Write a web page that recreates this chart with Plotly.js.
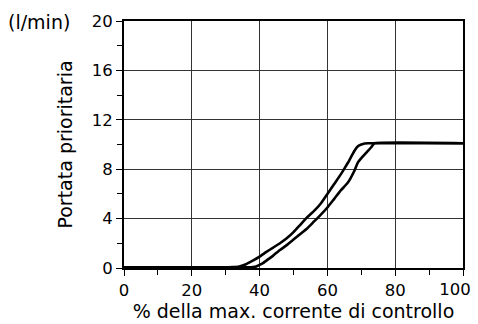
<!DOCTYPE html>
<html><head><meta charset="utf-8">
<script src="https://cdn.plot.ly/plotly-3.0.1.min.js"></script>
<style>html,body{margin:0;padding:0;background:#fff}#c{width:478px;height:324px}</style>
</head><body><div id="c"></div>
<script>
// Curve rising earlier (decreasing current)
var curveA_x = [0, 30, 32, 34, 36, 38, 40, 42, 44, 46, 48, 50, 52, 54, 56, 58, 60, 62, 64, 66, 67, 68, 69, 70, 71, 72, 100];
var curveA_y = [0.05, 0.05, 0.07, 0.12, 0.3, 0.6, 0.92, 1.3, 1.65, 2.0, 2.4, 2.9, 3.5, 4.1, 4.6, 5.2, 6.0, 6.8, 7.6, 8.5, 9.0, 9.5, 9.85, 10.0, 10.08, 10.1, 10.1];
// Curve rising later (increasing current)
var curveB_x = [0, 37, 38, 39, 40, 41, 42, 44, 46, 48, 50, 52, 54, 56, 58, 60, 62, 64, 66, 68, 69, 70, 71, 72, 73, 73.8, 100];
var curveB_y = [0.05, 0.05, 0.07, 0.12, 0.25, 0.4, 0.6, 1.0, 1.45, 1.85, 2.3, 2.75, 3.2, 3.75, 4.3, 4.9, 5.6, 6.3, 6.9, 7.9, 8.55, 8.9, 9.2, 9.5, 9.8, 10.1, 10.1];
var xTicks = [0, 20, 40, 60, 80, 100];
var xTickText = ['0', '20', '40', '60', '80', ''];
var xEndTick = [100];
var xEndText = ['100'];
var yTicks = [0, 4, 8, 12, 16, 20];
var yTickText = ['0', '4', '8', '12', '16', '20'];

var lineStyle = {color: '#000', width: 2.6, shape: 'spline', smoothing: 0.3};
var data = [
  {x: curveA_x, y: curveA_y, mode: 'lines', line: lineStyle, hoverinfo: 'skip'},
  {x: curveB_x, y: curveB_y, mode: 'lines', line: lineStyle, hoverinfo: 'skip'},
  {x: xEndTick, y: [0], xaxis: 'x2', mode: 'markers', marker: {opacity: 0}, hoverinfo: 'skip'}
];
var tickFont = {family: 'DejaVu Sans, Verdana, sans-serif', size: 16.5, color: '#000'};
var titleFont = {family: 'DejaVu Sans, Verdana, sans-serif', size: 19, color: '#000'};
var layout = {
  width: 478, height: 324,
  margin: {l: 124, r: 15, t: 21, b: 56, pad: 0},
  paper_bgcolor: '#fff', plot_bgcolor: '#fff',
  showlegend: false,
  font: tickFont,
  xaxis: {
    range: [0, 100], tickvals: xTicks, ticktext: xTickText,
    showgrid: true, gridcolor: '#333', gridwidth: 1,
    showline: true, linecolor: '#000', linewidth: 2, mirror: true,
    ticks: 'outside', ticklen: 6, tickwidth: 1, tickcolor: '#000',
    minor: {dtick: 10, tick0: 0, ticks: 'outside', ticklen: 5, tickcolor: '#000', showgrid: false},
    zeroline: false, tickfont: tickFont,
    title: {text: '% della max. corrente di controllo', font: titleFont, standoff: 0}
  },
  xaxis2: {
    overlaying: 'x', side: 'bottom', range: [0, 100],
    tickvals: xEndTick, ticktext: xEndText, ticklabelshift: -8,
    ticks: 'outside', ticklen: 6, tickcolor: 'rgba(0,0,0,0)',
    showgrid: false, showline: false, zeroline: false,
    tickfont: tickFont, ticklabeloverflow: 'allow'
  },
  yaxis: {
    range: [0, 20], tickvals: yTicks, ticktext: yTickText,
    showgrid: true, gridcolor: '#333', gridwidth: 1,
    showline: true, linecolor: '#000', linewidth: 2, mirror: true,
    ticks: 'outside', ticklen: 6, tickwidth: 1, tickcolor: '#000',
    minor: {dtick: 2, tick0: 0, ticks: 'outside', ticklen: 5, tickcolor: '#000', showgrid: false},
    zeroline: false, tickfont: tickFont,
    title: {text: 'Portata prioritaria', font: titleFont, standoff: 14}
  },
  annotations: [{
    text: '(l/min)', xref: 'paper', yref: 'y', x: 0, y: 20,
    xanchor: 'right', yanchor: 'middle', xshift: -52, yshift: -1, showarrow: false, font: titleFont
  }],
  shapes: [{type: 'line', xref: 'x', yref: 'y', x0: 100, x1: 101.2, y0: 2, y1: 2, line: {color: '#000', width: 1}}]
};
Plotly.newPlot('c', data, layout, {staticPlot: true, displayModeBar: false});
</script></body></html>
